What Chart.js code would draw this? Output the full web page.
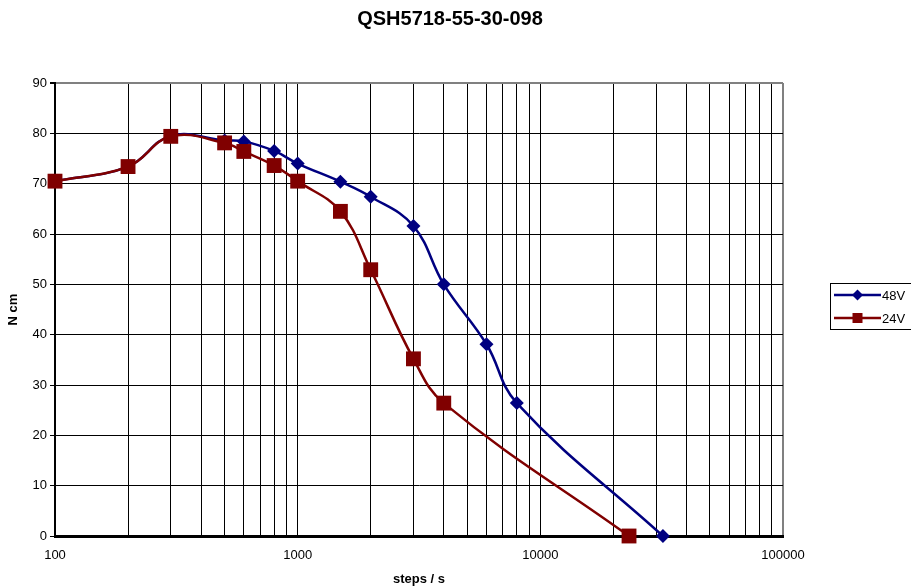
<!DOCTYPE html>
<html>
<head>
<meta charset="utf-8">
<script src="https://cdn.jsdelivr.net/npm/chart.js@4/dist/chart.umd.min.js"></script>
<style>
  html, body { margin: 0; padding: 0; background: #fff; }
  #wrap { width: 911px; height: 588px; }
</style>
</head>
<body>
<div id="wrap"><canvas id="chartCanvas" width="911" height="588"></canvas></div>
<script>
// Données
const speeds48 = [100, 200, 300, 500, 600, 800, 1000, 1500, 2000, 3000, 4000, 6000, 8000, 32000];
const torque48 = [70.5, 73.4, 79.5, 78.6, 78.4, 76.5, 74.0, 70.4, 67.4, 61.6, 50.0, 38.1, 26.4, 0];
const speeds24 = [100, 200, 300, 500, 600, 800, 1000, 1500, 2000, 3000, 4000, 23200];
const torque24 = [70.5, 73.4, 79.4, 78.1, 76.4, 73.6, 70.5, 64.5, 52.9, 35.2, 26.4, 0];
const yTicks = [0, 10, 20, 30, 40, 50, 60, 70, 80, 90];
const xDecades = [100, 1000, 10000, 100000];

const BLUE = '#000080';
const RED = '#800000';
const FONT = '"Liberation Sans", Arial, sans-serif';

function toPoints(xs, ys) {
    return xs.map((x, i) => ({ x: x, y: ys[i] }));
}

// Légende dessinée à la main (ligne + marqueur, dans un cadre)
const legendBox = {
    id: 'legendBox',
    afterDraw(chart) {
        const ctx = chart.ctx;
        ctx.save();
        ctx.strokeStyle = '#000';
        ctx.lineWidth = 1;
        ctx.strokeRect(830.5, 283.5, 90, 46);
        const rows = [
            { label: '48V', color: BLUE, style: 'diamond', y: 295 },
            { label: '24V', color: RED, style: 'rect', y: 318 }
        ];
        rows.forEach(row => {
            ctx.strokeStyle = row.color;
            ctx.lineWidth = 2.5;
            ctx.beginPath();
            ctx.moveTo(834, row.y);
            ctx.lineTo(881, row.y);
            ctx.stroke();
            ctx.fillStyle = row.color;
            ctx.beginPath();
            if (row.style === 'rect') {
                ctx.rect(857.5 - 5, row.y - 5, 10, 10);
            } else {
                ctx.moveTo(857.5, row.y - 5.5);
                ctx.lineTo(863, row.y);
                ctx.lineTo(857.5, row.y + 5.5);
                ctx.lineTo(852, row.y);
                ctx.closePath();
            }
            ctx.fill();
            ctx.fillStyle = '#000';
            ctx.font = '13px ' + FONT;
            ctx.textBaseline = 'middle';
            ctx.textAlign = 'left';
            ctx.fillText(row.label, 882, row.y + 1);
        });
        ctx.restore();
    }
};

const ctx = document.getElementById('chartCanvas').getContext('2d');
const chart = new Chart(ctx, {
    type: 'line',
    data: {
        datasets: [
            {
                label: '24V',
                data: toPoints(speeds24, torque24),
                borderColor: RED,
                backgroundColor: RED,
                borderWidth: 2.5,
                pointStyle: 'rect',
                pointRadius: 10.5,
                pointBorderWidth: 0,
                tension: 0.4,
                clip: false,
                order: 0
            },
            {
                label: '48V',
                data: toPoints(speeds48, torque48),
                borderColor: BLUE,
                backgroundColor: BLUE,
                borderWidth: 2.5,
                pointStyle: 'rectRot',
                pointRadius: 7,
                pointBorderWidth: 0,
                tension: 0.4,
                clip: false,
                order: 1
            }
        ]
    },
    options: {
        responsive: false,
        animation: false,
        layout: { padding: { left: 0, right: 11, top: 0, bottom: 0 } },
        plugins: {
            legend: { display: false },
            tooltip: { enabled: false },
            title: {
                display: true,
                text: 'QSH5718-55-30-098',
                color: '#000',
                font: { family: FONT, size: 20, weight: 'bold', lineHeight: 1.2 },
                padding: { top: 7, bottom: 52 }
            }
        },
        scales: {
            x: {
                type: 'logarithmic',
                min: 100,
                max: 100000,
                afterBuildTicks: scale => {
                    const ticks = [];
                    xDecades.forEach((d, i) => {
                        if (i === xDecades.length - 1) {
                            ticks.push({ value: d });
                            return;
                        }
                        for (let m = 1; m <= 9; m++) ticks.push({ value: d * m });
                    });
                    scale.ticks = ticks;
                },
                afterFit: scale => { scale.height = 52; },
                ticks: {
                    autoSkip: false,
                    maxRotation: 0,
                    padding: 12,
                    color: '#000',
                    font: { family: FONT, size: 13 },
                    callback: v => xDecades.includes(v) ? String(v) : ''
                },
                grid: {
                    drawTicks: false,
                    color: c => c.tick && c.tick.value === 100000 ? '#808080' : '#000',
                    lineWidth: c => c.tick && c.tick.value === 100000 ? 2 : 1
                },
                border: { color: '#000', width: 3 },
                title: {
                    display: true,
                    text: 'steps / s',
                    color: '#000',
                    font: { family: FONT, size: 13, weight: 'bold' },
                    padding: { top: 0, bottom: 1 }
                }
            },
            y: {
                min: 0,
                max: 90,
                afterBuildTicks: scale => { scale.ticks = yTicks.map(v => ({ value: v })); },
                afterFit: scale => { scale.width = 55; },
                ticks: {
                    color: '#000',
                    padding: 3,
                    font: { family: FONT, size: 13 }
                },
                grid: {
                    tickLength: 5,
                    tickColor: '#000',
                    color: c => c.tick && c.tick.value === 90 ? '#808080' : '#000',
                    lineWidth: c => c.tick && c.tick.value === 90 ? 2 : 1
                },
                border: { color: '#000', width: 2 },
                title: {
                    display: true,
                    text: 'N cm',
                    color: '#000',
                    font: { family: FONT, size: 13, weight: 'bold' },
                    padding: { top: 6, bottom: 0 }
                }
            },
            yRight: {
                type: 'linear',
                position: 'right',
                display: true,
                afterFit: scale => { scale.width = 117; },
                ticks: { display: false },
                grid: { display: false, drawTicks: false },
                border: { display: false }
            }
        }
    },
    plugins: [legendBox]
});
</script>
</body>
</html>
